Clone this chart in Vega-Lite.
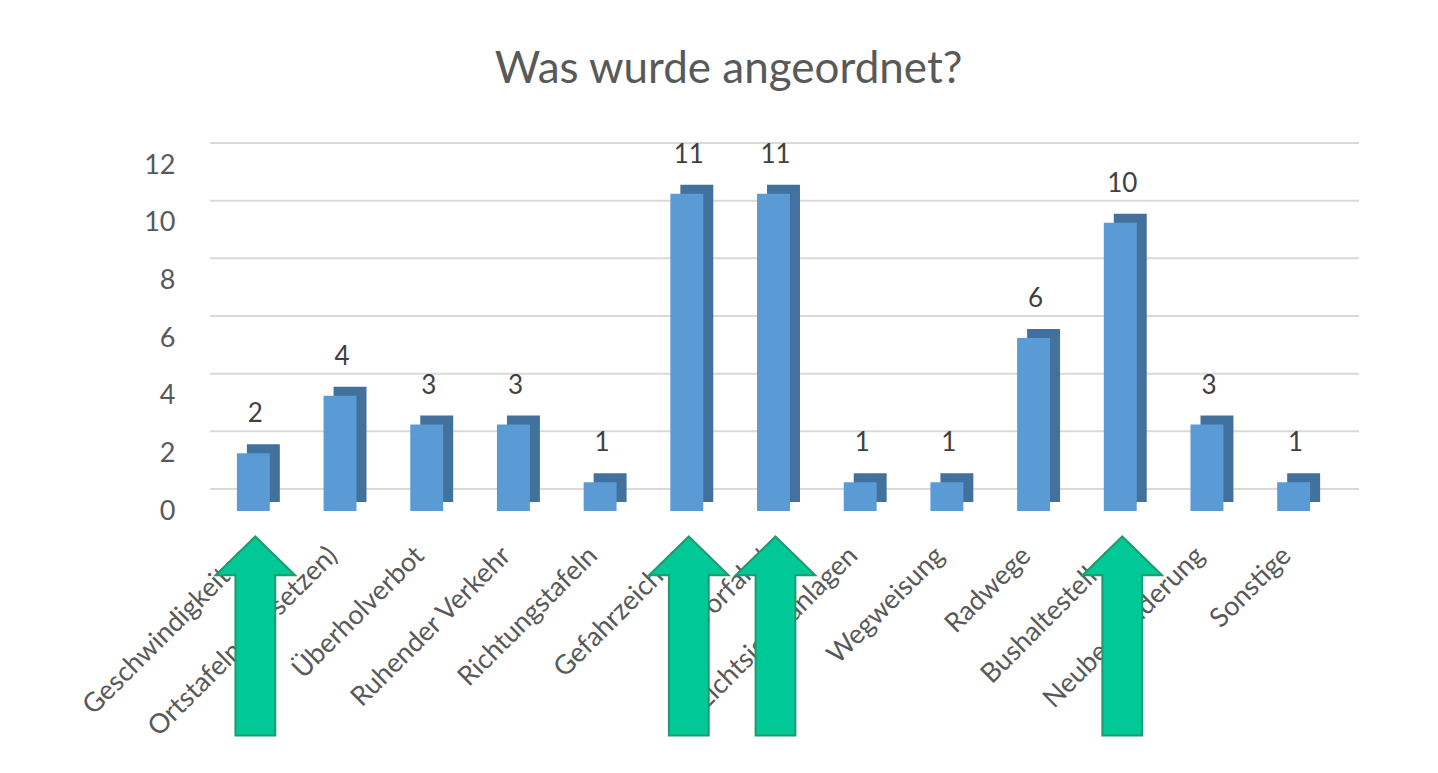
{
  "$schema": "https://vega.github.io/schema/vega-lite/v6.json",
  "width": 1127,
  "height": 346,
  "autosize": {"type": "none"},
  "padding": {"left": 210, "top": 165, "right": 101, "bottom": 262},
  "background": "#ffffff",
  "config": {
    "view": {"stroke": null},
    "font": "Lato"
  },
  "title": {
    "text": "Was wurde angeordnet?",
    "font": "Lato",
    "fontSize": 44,
    "fontWeight": "normal",
    "color": "#595959",
    "anchor": "middle",
    "frame": "group",
    "offset": 50,
    "dx": -45
  },
  "datasets": {
    "werte": [
      {"kategorie": "Geschwindigkeiten", "wert": 2, "markiert": true},
      {"kategorie": "Ortstafeln (versetzen)", "wert": 4, "markiert": false},
      {"kategorie": "Überholverbot", "wert": 3, "markiert": false},
      {"kategorie": "Ruhender Verkehr", "wert": 3, "markiert": false},
      {"kategorie": "Richtungstafeln", "wert": 1, "markiert": false},
      {"kategorie": "Gefahrzeichen", "wert": 11, "markiert": true},
      {"kategorie": "Vorfahrt", "wert": 11, "markiert": true},
      {"kategorie": "Lichtsignalanlagen", "wert": 1, "markiert": false},
      {"kategorie": "Wegweisung", "wert": 1, "markiert": false},
      {"kategorie": "Radwege", "wert": 6, "markiert": false},
      {"kategorie": "Bushaltestellen", "wert": 10, "markiert": true},
      {"kategorie": "Neubeschilderung", "wert": 3, "markiert": false},
      {"kategorie": "Sonstige", "wert": 1, "markiert": false}
    ],
    "raster": [
      {"wert": 0}, {"wert": 2}, {"wert": 4}, {"wert": 6}, {"wert": 8}, {"wert": 10}, {"wert": 12}
    ]
  },
  "layer": [
    {
      "data": {"name": "raster"},
      "mark": {"type": "rule", "color": "#d9d9d9", "strokeWidth": 2, "xOffset": 22, "yOffset": -22},
      "encoding": {
        "y": {
          "field": "wert", "type": "quantitative",
          "scale": {"domain": [0, 12], "nice": false, "zero": true},
          "axis": {
            "values": [0, 2, 4, 6, 8, 10, 12],
            "title": null,
            "domain": false,
            "ticks": false,
            "grid": false,
            "labelFont": "Lato",
            "labelFontSize": 27,
            "labelColor": "#595959",
            "labelPadding": 35
          }
        }
      }
    },
    {
      "data": {"name": "werte"},
      "mark": {"type": "bar", "color": "#41719c", "xOffset": 10, "yOffset": -9},
      "encoding": {
        "x": {
          "field": "kategorie", "type": "nominal", "sort": null,
          "scale": {"paddingInner": 0.62, "paddingOuter": 0.31},
          "axis": {
            "title": null,
            "labelAngle": -45,
            "labelFont": "Lato",
            "labelFontSize": 27,
            "labelColor": "#595959",
            "labelLimit": 0,
            "labelOverlap": false,
            "domain": false,
            "ticks": false,
            "labelPadding": 31,
            "labelOffset": -16
          }
        },
        "y": {"field": "wert", "type": "quantitative"}
      }
    },
    {
      "data": {"name": "werte"},
      "mark": {"type": "bar", "color": "#5b9bd5"},
      "encoding": {
        "x": {"field": "kategorie", "type": "nominal", "sort": null},
        "y": {"field": "wert", "type": "quantitative"}
      }
    },
    {
      "data": {"name": "werte"},
      "mark": {"type": "text", "baseline": "bottom", "dy": -26, "dx": 2, "font": "Lato", "fontSize": 26, "color": "#404040"},
      "encoding": {
        "x": {"field": "kategorie", "type": "nominal", "sort": null},
        "y": {"field": "wert", "type": "quantitative"},
        "text": {"field": "wert", "type": "quantitative"}
      }
    },
    {
      "data": {"name": "werte"},
      "transform": [{"filter": "datum.markiert"}],
      "mark": {
        "type": "point",
        "shape": "M0,-1 L0.4,-0.61 L0.2,-0.61 L0.2,1 L-0.2,1 L-0.2,-0.61 L-0.4,-0.61 Z",
        "size": 39600,
        "filled": true,
        "fill": "#00c896",
        "stroke": "#1e9b6c",
        "strokeWidth": 2,
        "opacity": 1,
        "yOffset": 125,
        "xOffset": 2
      },
      "encoding": {
        "x": {"field": "kategorie", "type": "nominal", "sort": null},
        "y": {"datum": 0, "type": "quantitative"}
      }
    }
  ]
}
